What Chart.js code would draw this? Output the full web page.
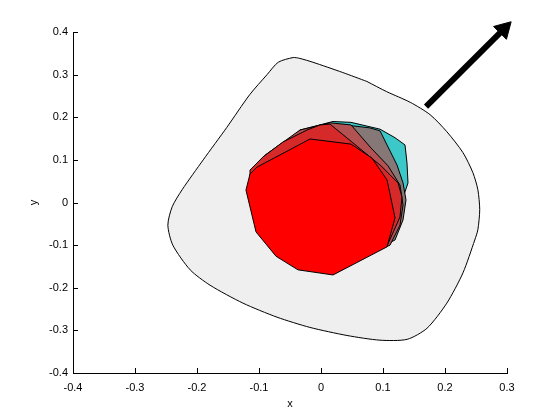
<!DOCTYPE html>
<html>
<head>
<meta charset="utf-8">
<style>
html,body{margin:0;padding:0;background:#fff;}
canvas{display:block;}
</style>
<script src="https://cdn.jsdelivr.net/npm/chart.js@4.4.1/dist/chart.umd.min.js"></script>
</head>
<body>
<canvas id="c" width="560" height="420"></canvas>
<script>
// ---- tick values and labels ----
const xTicks = [-0.4, -0.3, -0.2, -0.1, 0, 0.1, 0.2, 0.3];
const xTickLabels = ['-0.4', '-0.3', '-0.2', '-0.1', '0', '0.1', '0.2', '0.3'];
const yTicks = [-0.4, -0.3, -0.2, -0.1, 0, 0.1, 0.2, 0.3, 0.4];
const yTickLabels = ['-0.4', '-0.3', '-0.2', '-0.1', '0', '0.1', '0.2', '0.3', '0.4'];
const xTitle = 'x';
const yTitle = 'y';

// ---- outer light-gray region ----
const grayX = [0.074,0.106,0.144,0.176,0.203,0.229,0.245,0.253,0.256,0.253,0.248,0.229,0.203,0.171,0.139,0.095,0.042,-0.018,-0.071,-0.126,-0.179,-0.211,-0.239,-0.247,-0.240,-0.224,-0.190,-0.152,-0.115,-0.087,-0.069,-0.045,-0.034,-0.013,0.035];
const grayY = [0.284,0.260,0.235,0.206,0.166,0.117,0.070,0.030,-0.017,-0.064,-0.088,-0.165,-0.236,-0.295,-0.321,-0.323,-0.312,-0.293,-0.269,-0.236,-0.194,-0.158,-0.100,-0.053,-0.010,0.030,0.100,0.176,0.253,0.300,0.329,0.340,0.338,0.329,0.305];

// ---- stacked polygons (back to front) ----
const cyanX = [0.0194,0.0484,0.0952,0.1194,0.1355,0.1387,0.1403,0.1355,0.1242,0.1113,0.0306,-0.0339,-0.0952,-0.1113,-0.0339];
const cyanY = [0.190,0.188,0.172,0.152,0.135,0.093,0.046,0.025,-0.029,-0.088,-0.153,-0.140,-0.053,0.053,0.170];

const taupeX = [0.0387,0.0790,0.0952,0.1065,0.1226,0.1323,0.1371,0.1323,0.1194,0.0306,-0.0339,-0.0952,-0.1113,-0.0339];
const taupeY = [0.182,0.175,0.168,0.135,0.088,0.046,0.006,-0.041,-0.088,-0.153,-0.140,-0.053,0.053,0.170];

const brownX = [0.0145,0.0484,0.0806,0.1081,0.1274,0.1323,0.1274,0.1113,0.0306,-0.0339,-0.0952,-0.1113,-0.0903,-0.0339];
const brownY = [0.187,0.182,0.128,0.086,0.041,-0.006,-0.053,-0.100,-0.153,-0.140,-0.053,0.053,0.111,0.170];

const darkRedX = [-0.0016,0.0145,0.0968,0.1113,0.1242,0.1306,0.1274,0.1081,0.0306,-0.0339,-0.0984,-0.1145,-0.1145,-0.0935,-0.0613,-0.0226];
const darkRedY = [0.182,0.184,0.086,0.065,0.046,0.013,-0.034,-0.097,-0.153,-0.140,-0.053,0.041,0.076,0.107,0.142,0.170];

const redX = [-0.0177,0.0484,0.0823,0.1065,0.1194,0.1065,0.0194,-0.0371,-0.0726,-0.1048,-0.1210,-0.1145,-0.1032];
const redY = [0.149,0.137,0.104,0.053,-0.036,-0.104,-0.170,-0.158,-0.126,-0.069,0.029,0.067,0.083];

// ---- arrow ----
const arrowShaftX = [0.1694, 0.2887];
const arrowShaftY = [0.2248, 0.3977];
const arrowHeadX = [0.2947];
const arrowHeadY = [0.4066];

function closed(xs, ys) {
  const pts = xs.map((x, i) => ({x: x, y: ys[i]}));
  pts.push({x: xs[0], y: ys[0]});
  return pts;
}
function open(xs, ys) {
  return xs.map((x, i) => ({x: x, y: ys[i]}));
}
function poly(xs, ys, fillColor, order, tension) {
  return {
    data: closed(xs, ys),
    borderColor: '#000',
    borderWidth: 1,
    backgroundColor: fillColor,
    fill: 'shape',
    pointRadius: 0,
    tension: tension || 0,
    borderJoinStyle: 'miter',
    order: order
  };
}

const FONT = {family: '"Liberation Sans", Arial, sans-serif', size: 11};

const insideTicks = {
  id: 'insideTicks',
  afterDraw(chart) {
    const ctx = chart.ctx;
    const a = chart.chartArea;
    const xs = chart.scales.x, ys = chart.scales.y;
    ctx.save();
    ctx.strokeStyle = '#000';
    ctx.lineWidth = 1;
    ctx.beginPath();
    xs.ticks.forEach((t, i) => {
      const px = Math.round(xs.getPixelForTick(i)) + 0.5;
      ctx.moveTo(px, a.bottom);
      ctx.lineTo(px, a.bottom - 5);
    });
    ys.ticks.forEach((t, i) => {
      const py = Math.round(ys.getPixelForTick(i)) + 0.5;
      ctx.moveTo(a.left, py);
      ctx.lineTo(a.left + 5, py);
    });
    ctx.stroke();
    ctx.restore();
  }
};

new Chart(document.getElementById('c'), {
  type: 'line',
  data: {
    datasets: [
      {
        data: open(arrowHeadX, arrowHeadY),
        showLine: false,
        pointStyle: 'triangle',
        pointRadius: 10.5,
        rotation: 45,
        backgroundColor: '#000',
        borderColor: '#000',
        borderWidth: 1,
        clip: false,
        order: 0
      },
      {
        data: open(arrowShaftX, arrowShaftY),
        borderColor: '#000',
        borderWidth: 6,
        borderCapStyle: 'butt',
        pointRadius: 0,
        fill: false,
        clip: false,
        order: 1
      },
      poly(redX, redY, '#FF0000', 2),
      poly(darkRedX, darkRedY, '#D62A2A', 3),
      poly(brownX, brownY, '#B35252', 4),
      poly(taupeX, taupeY, '#877878', 5),
      poly(cyanX, cyanY, '#3CC8C8', 6),
      poly(grayX, grayY, '#EFEFEF', 7, 0.25)
    ]
  },
  options: {
    responsive: false,
    animation: false,
    devicePixelRatio: 1,
    layout: {padding: {left: 0, right: 53, top: 32, bottom: 0}},
    plugins: {legend: {display: false}, tooltip: {enabled: false}},
    scales: {
      x: {
        type: 'linear',
        min: -0.4, max: 0.3,
        afterBuildTicks: s => { s.ticks = xTicks.map(v => ({value: v})); },
        afterFit: s => { s.height = 47; },
        grid: {drawOnChartArea: false, drawTicks: false},
        border: {display: true, color: '#000', width: 1},
        ticks: {color: '#000', font: FONT, padding: 8, maxRotation: 0, autoSkip: false,
                callback: (v, i) => xTickLabels[i]},
        title: {display: true, text: xTitle, color: '#000', font: FONT, padding: {top: 0, bottom: 9}}
      },
      y: {
        type: 'linear',
        min: -0.4, max: 0.4,
        afterBuildTicks: s => { s.ticks = yTicks.map(v => ({value: v})); },
        afterFit: s => { s.width = 73; },
        grid: {drawOnChartArea: false, drawTicks: false},
        border: {display: true, color: '#000', width: 1},
        ticks: {color: '#000', font: FONT, padding: 5, autoSkip: false,
                callback: (v, i) => yTickLabels[i]},
        title: {display: true, text: yTitle, color: '#000', font: FONT, padding: {top: 27, bottom: 0}}
      }
    }
  },
  plugins: [insideTicks]
});
</script>
</body>
</html>
